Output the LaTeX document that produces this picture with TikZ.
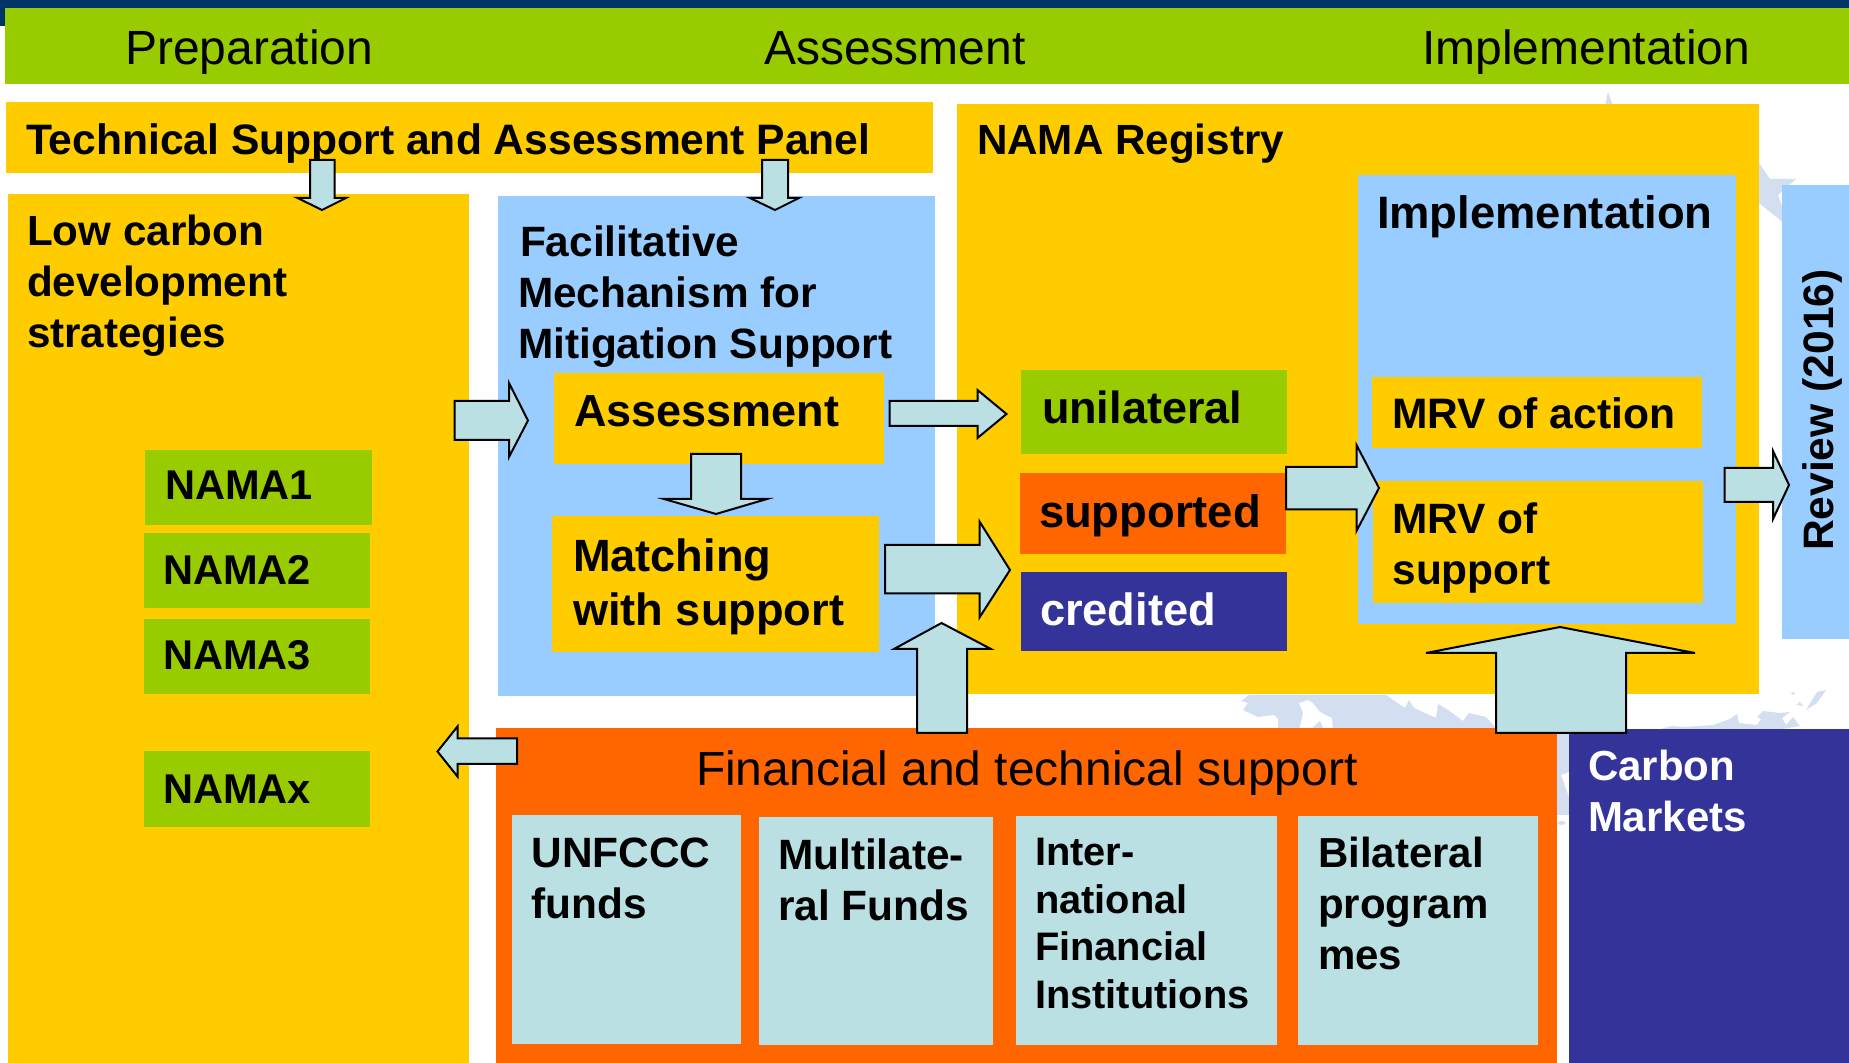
\documentclass[tikz,border=0pt]{standalone}
\usepackage{fontspec}
\setmainfont{Liberation Sans}
\definecolor{navy}{HTML}{003366}
\definecolor{leaf}{HTML}{99CC00}
\definecolor{amber}{HTML}{FFCC00}
\definecolor{sky}{HTML}{99CCFF}
\definecolor{flame}{HTML}{FF6600}
\definecolor{indigo}{HTML}{333399}
\definecolor{pale}{HTML}{BBE0E3}
\definecolor{wmark}{HTML}{D3DEF1}
\tikzset{
  boxbase/.style={rectangle,draw=none,inner sep=0pt,outer sep=0pt,anchor=north west},
  navybox/.style={boxbase,fill=navy},
  leafbox/.style={boxbase,fill=leaf},
  amberbox/.style={boxbase,fill=amber},
  skybox/.style={boxbase,fill=sky},
  flamebox/.style={boxbase,fill=flame},
  indigobox/.style={boxbase,fill=indigo},
  palebox/.style={boxbase,fill=pale},
  txt/.style={inner sep=0pt,outer sep=0pt,anchor=base west,text=black},
  white text/.style={text=white},
  blockarrow/.style={draw=black,fill=pale,line width=1pt,line join=miter,miter limit=10},
  watermark/.style={fill=wmark,draw=none}
}
\newcommand\bx[6]{\node[#2,minimum width={(#5-#3)*0.5pt},minimum height={(#6-#4)*0.5pt}] (#1) at (#3,#4) {};}
\newcommand\tx[5]{\node[txt,#4] (#1) at (#2,#3) {#5};}
\newcommand\reg{\fontsize{24}{25}\selectfont}
\newcommand\bld[1]{\fontsize{#1}{25.5}\selectfont\bfseries}
\begin{document}
\begin{tikzpicture}[x=0.5pt,y=-0.5pt]
\useasboundingbox (0,0) rectangle (1849,1063);
% watermark
\fill[watermark] (1608,92) -- (1613,106) -- (1759,106) -- (1759,163) -- (1770,179) -- (1796,179) -- (1778,195) -- (1790,228) -- (1759,203) -- (1605,106) -- cycle;
\fill[watermark] (1262,695) -- (1274,695) -- (1386,695) -- (1405,708) -- (1409,700) -- (1414,708) -- (1436,718) -- (1438,704) -- (1448,710) -- (1463,721) -- (1469,713) -- (1486,717) -- (1496,728) -- (1496,730) -- (1333,730) -- (1332,718) -- (1320,712) -- (1313,703) -- (1308,700) -- (1299,703) -- (1303,713) -- (1299,730) -- (1278,730) -- (1278,719) -- (1274,715) -- (1258,717) -- (1243,710) -- (1248,703) -- (1241,701) -- (1249,695) -- cycle;
\fill[watermark] (1310,730) -- (1320,721) -- (1324,730) -- cycle;
\fill[watermark] (1657,730) -- (1672,726) -- (1684,727) -- (1713,725) -- (1730,719) -- (1737,714) -- (1739,723) -- (1757,725) -- (1761,719) -- (1757,717) -- (1763,711) -- (1780,713) -- (1790,712) -- (1782,718) -- (1786,725) -- (1793,717) -- (1800,726) -- (1777,730) -- cycle;
\fill[watermark] (1806,710) -- (1817,692) -- (1826,690) -- (1817,703) -- cycle;
\fill[watermark] (1796,705) -- (1800,702) -- (1803,706) -- cycle;
\fill[watermark] (1790,693) -- (1795,692) -- (1794,695) -- cycle;
\fill[watermark] (1557,733) -- (1569,733) -- (1569,772) -- (1561,775) -- (1569,797) -- (1569,815) -- (1557,815) -- cycle;
\fill[watermark] (1561.5,823) ellipse (4 and 2);
% header
\bx{topbar}{navybox}{0}{0}{1849}{8}
\bx{topleft}{navybox}{0}{0}{5}{26}
\bx{band}{leafbox}{5}{8}{1849}{84.5}
\tx{tPrep}{125}{64.5}{font=\reg}{Preparation}
\tx{tAss}{764}{64.5}{font=\reg}{Assessment}
\tx{tImp}{1422}{64.5}{font=\reg}{Implementation}
% panels
\bx{tsap}{amberbox}{6}{102}{933}{173}
\bx{low}{amberbox}{8}{194}{469}{1063}
\bx{fmms}{skybox}{498}{196}{935}{696}
\bx{asm}{amberbox}{554}{373}{884}{464}
\bx{match}{amberbox}{552}{516.5}{879}{652}
\bx{nama1}{leafbox}{145}{450}{372}{525}
\bx{nama2}{leafbox}{144}{533}{370}{608}
\bx{nama3}{leafbox}{144}{619}{370}{694}
\bx{namax}{leafbox}{144}{751}{370}{827}
\bx{reg}{amberbox}{957}{104}{1759}{694}
\bx{impl}{skybox}{1358}{175}{1736}{624}
\bx{review}{skybox}{1782}{185}{1849}{639}
\bx{uni}{leafbox}{1021}{370}{1287}{454}
\bx{sup}{flamebox}{1020}{473}{1286}{554}
\bx{cred}{indigobox}{1021}{572}{1287}{651.5}
\bx{mrva}{amberbox}{1372}{377}{1702}{448}
\bx{mrvs}{amberbox}{1373}{481.5}{1703}{603}
\bx{fin}{flamebox}{496}{728.5}{1557}{1063}
\bx{carbon}{indigobox}{1569}{729.5}{1849}{1063}
\bx{unf}{palebox}{512}{815.5}{741}{1043.5}
\bx{mul}{palebox}{759}{817.5}{993}{1045}
\bx{int}{palebox}{1016}{816.5}{1277}{1044.5}
\bx{bil}{palebox}{1298}{816.5}{1538}{1044.5}
% labels
\tx{tTsap}{26}{155}{font=\bld{21.3}}{Technical Support and Assessment Panel}
\tx{tLow}{27}{245.5}{font=\bld{21.1}}{\vtop{\hbox{Low carbon}\hbox{development}\hbox{strategies}}}
\tx{tFmms}{518}{257}{font=\bld{21.2}}{\vtop{\hbox{\kern1pt Facilitative}\hbox{Mechanism for}\hbox{Mitigation Support}}}
\tx{tAsm}{574}{427}{font=\bld{22.5}}{Assessment}
\tx{tMatch}{573}{571.5}{font={\fontsize{22.6}{27.2}\selectfont\bfseries}}{\vtop{\hbox{Matching}\hbox{with support}}}
\tx{tN1}{165}{500}{font=\bld{20.8}}{NAMA1}
\tx{tN2}{163}{585}{font=\bld{20.8}}{NAMA2}
\tx{tN3}{163}{670}{font=\bld{20.8}}{NAMA3}
\tx{tNx}{163}{803.5}{font=\bld{20.8}}{NAMAx}
\tx{tReg}{977}{155}{font=\bld{21.1}}{NAMA Registry}
\tx{tImpl}{1377}{229}{font=\bld{22.7}}{Implementation}
\tx{tUni}{1042}{424}{font=\bld{22.5}}{unilateral}
\tx{tSup}{1039}{527.5}{font=\bld{22.7}}{supported}
\tx{tCred}{1040}{626}{font=\bld{22.6},white text}{credited}
\tx{tMa}{1392}{429}{font=\bld{21.3}}{MRV of action}
\tx{tMs}{1392.5}{534}{font=\bld{21.2}}{\vtop{\hbox{MRV of}\hbox{support}}}
\node[txt,rotate=90,font=\bld{21.3}] (tRev) at (1833,551) {Review (2016)};
\tx{tFin}{696}{786}{font={\fontsize{24}{25}\selectfont}}{Financial and technical support}
\tx{tUnf}{531.5}{868}{font=\bld{21.2}}{\vtop{\hbox{UNFCCC}\hbox{funds}}}
\tx{tMul}{778}{869.5}{font=\bld{21.2}}{\vtop{\hbox{Multilate-}\hbox{ral Funds}}}
\tx{tInt}{1035}{866}{font={\fontsize{19.9}{23.7}\selectfont\bfseries}}{\vtop{\hbox{Inter-}\hbox{national}\hbox{Financial}\hbox{Institutions}}}
\tx{tBil}{1318}{868}{font=\bld{21}}{\vtop{\hbox{Bilateral}\hbox{program}\hbox{mes}}}
\tx{tCar}{1588}{781}{font=\bld{21},white text}{\vtop{\hbox{Carbon}\hbox{Markets}}}
% block arrows
\draw[blockarrow] (310,160) -- (334.5,160) -- (334.5,198) -- (346,198) -- (322,210) -- (297.5,198) -- (310,198) -- cycle;
\draw[blockarrow] (762,160) -- (788,160) -- (788,198) -- (799,198) -- (775,210) -- (750,198) -- (762,198) -- cycle;
\draw[blockarrow] (454.5,401) -- (509,401) -- (509,383) -- (528,420.5) -- (509,457) -- (509,440) -- (454.5,440) -- cycle;
\draw[blockarrow] (691,454) -- (741,454) -- (741,499) -- (767,499) -- (716,514) -- (664,499) -- (691,499) -- cycle;
\draw[blockarrow] (889.5,401) -- (977.5,401) -- (977.5,390) -- (1006.5,414) -- (977.5,438) -- (977.5,426) -- (889.5,426) -- cycle;
\draw[blockarrow] (885,545) -- (979.5,545) -- (979.5,521.5) -- (1010,570) -- (979.5,617.5) -- (979.5,593.5) -- (885,593.5) -- cycle;
\draw[blockarrow] (1286,467) -- (1356.5,467) -- (1356.5,445) -- (1379,488) -- (1356.5,531) -- (1356.5,509.5) -- (1286,509.5) -- cycle;
\draw[blockarrow] (1724.5,468) -- (1773,468) -- (1773,451) -- (1789,485) -- (1773,519) -- (1773,502) -- (1724.5,502) -- cycle;
\draw[blockarrow] (917,733) -- (917,649) -- (894,649) -- (941.5,623) -- (991,649) -- (967,649) -- (967,733) -- cycle;
\draw[blockarrow] (1496,733) -- (1496,653) -- (1426,653) -- (1560,627) -- (1695,653) -- (1626,653) -- (1626,733) -- cycle;
\draw[blockarrow] (517,738.5) -- (457.5,738.5) -- (457.5,726.5) -- (437.5,751.5) -- (457.5,776.5) -- (457.5,764) -- (517,764) -- cycle;
\end{tikzpicture}
\end{document}
